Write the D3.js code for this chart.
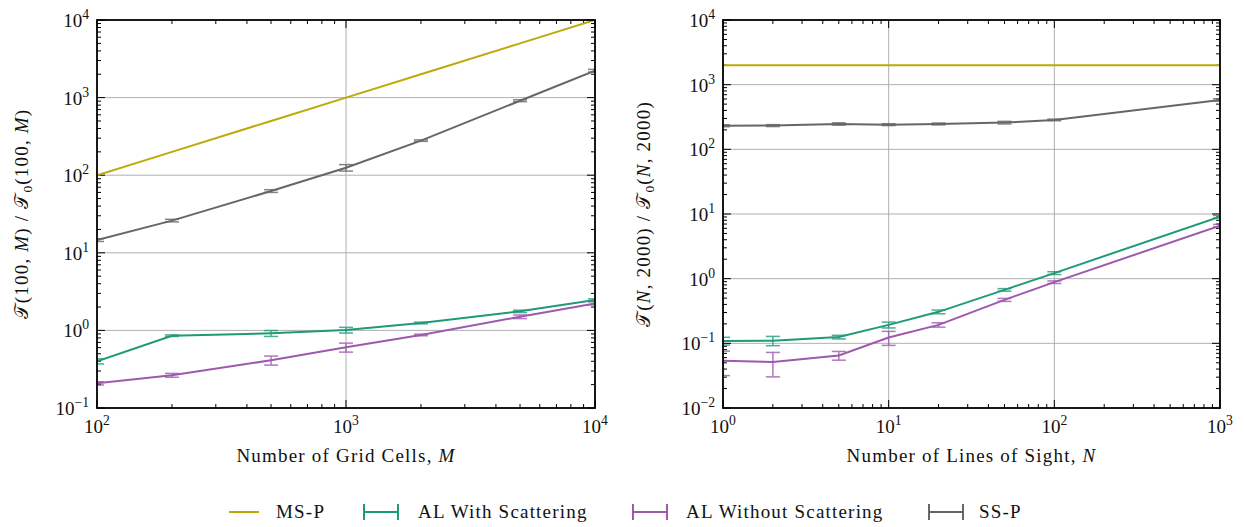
<!DOCTYPE html>
<html>
<head>
<meta charset="utf-8">
<script src="https://cdn.jsdelivr.net/npm/d3@7"></script>
<style>
  html, body { margin: 0; padding: 0; background: #fff; }
  svg { display: block; }
  text { font-family: "Liberation Serif", "Times New Roman", serif; fill: #111; }
</style>
</head>
<body>
<svg id="chart" width="1244" height="527"></svg>
<script>
// ---- Data: scaling with grid cells M (left) ----
const gridCells = [100, 200, 500, 1000, 2000, 5000, 10000];
const msP_M = [100, 200, 500, 1000, 2000, 5000, 10000];
const ssP_M = [14.6, 26, 62.5, 125, 279, 912, 2220];
const ssP_M_err = [0.6, 1, 2.5, 12, 6, 25, 90];
const alWith_M = [0.40, 0.855, 0.916, 1.01, 1.245, 1.76, 2.47];
const alWith_M_err = [0.03, 0.02, 0.08, 0.085, 0.03, 0.06, 0.08];
const alWithout_M = [0.208, 0.264, 0.412, 0.605, 0.873, 1.50, 2.23];
const alWithout_M_err = [0.01, 0.015, 0.055, 0.08, 0.02, 0.08, 0.1];

// ---- Data: scaling with lines of sight N (right) ----
const linesOfSight = [1, 2, 5, 10, 20, 50, 100, 1000];
const msP_N = [2000, 2000, 2000, 2000, 2000, 2000, 2000, 2000];
const ssP_N = [232, 233, 247, 241, 247, 259, 285, 581];
const ssP_N_err = [8, 8, 10, 8, 8, 12, 8, 25];
const alWith_N = [0.109, 0.110, 0.125, 0.193, 0.307, 0.671, 1.22, 9.1];
const alWith_N_err = [0.015, 0.018, 0.008, 0.02, 0.02, 0.03, 0.06, 0.4];
const alWithout_N = [0.0537, 0.0513, 0.0649, 0.123, 0.193, 0.47, 0.883, 6.6];
const alWithout_N_err = [0.022, 0.021, 0.01, 0.03, 0.015, 0.025, 0.04, 0.3];

// ---- Axis tick labels (decade exponents) ----
const xTicksLeft = [2, 3, 4];
const yTicksLeft = [-1, 0, 1, 2, 3, 4];
const xTicksRight = [0, 1, 2, 3];
const yTicksRight = [-2, -1, 0, 1, 2, 3, 4];

const seriesNames = ["MS-P", "AL With Scattering", "AL Without Scattering", "SS-P"];
const colors = { msp: "#bcab07", alw: "#1f9a78", alwo: "#9e58ae", ssp: "#666666" };

const svg = d3.select("#chart");
const fs = 19;
const ls = 1.2;

function sup(txt, exp) {
  txt.text(null);
  txt.append("tspan").text("10");
  txt.append("tspan").attr("dy", -8).attr("font-size", fs * 0.72)
    .text(exp < 0 ? "\u2212" + Math.abs(exp) : String(exp));
}

function panel(opts) {
  const { x0, x1, y0, y1, xExp, yExp, xs, series, xTitle, yTitleParts, id } = opts;
  const x = d3.scaleLog().domain([Math.pow(10, xExp[0]), Math.pow(10, xExp[xExp.length - 1])]).range([x0, x1]);
  const y = d3.scaleLog().domain([Math.pow(10, yExp[0]), Math.pow(10, yExp[yExp.length - 1])]).range([y1, y0]);
  const g = svg.append("g");

  g.append("clipPath").attr("id", id).append("rect")
    .attr("x", x0).attr("y", y0).attr("width", x1 - x0).attr("height", y1 - y0);

  // grid at decades
  g.append("g").selectAll("line").data(xExp.slice(1, -1)).join("line")
    .attr("x1", d => x(Math.pow(10, d))).attr("x2", d => x(Math.pow(10, d)))
    .attr("y1", y0).attr("y2", y1).attr("stroke", "#b0b0b0").attr("stroke-width", 1);
  g.append("g").selectAll("line").data(yExp.slice(1, -1)).join("line")
    .attr("y1", d => y(Math.pow(10, d))).attr("y2", d => y(Math.pow(10, d)))
    .attr("x1", x0).attr("x2", x1).attr("stroke", "#b0b0b0").attr("stroke-width", 1);

  // ticks on all four sides, pointing inward
  const ticks = g.append("g").attr("stroke", "#000").attr("stroke-width", 1);
  function minorMajor(exps) {
    const out = [];
    for (let i = 0; i < exps.length; i++) {
      out.push({ v: Math.pow(10, exps[i]), major: true });
      if (i < exps.length - 1) for (let k = 2; k <= 9; k++) out.push({ v: k * Math.pow(10, exps[i]), major: false });
    }
    return out;
  }
  minorMajor(xExp).forEach(t => {
    const px = x(t.v), L = t.major ? 8 : 4;
    ticks.append("line").attr("x1", px).attr("x2", px).attr("y1", y1).attr("y2", y1 - L);
    ticks.append("line").attr("x1", px).attr("x2", px).attr("y1", y0).attr("y2", y0 + L);
  });
  minorMajor(yExp).forEach(t => {
    const py = y(t.v), L = t.major ? 8 : 4;
    ticks.append("line").attr("y1", py).attr("y2", py).attr("x1", x0).attr("x2", x0 + L);
    ticks.append("line").attr("y1", py).attr("y2", py).attr("x1", x1).attr("x2", x1 - L);
  });

  // tick labels
  xExp.forEach(e => {
    const t = g.append("text").attr("x", x(Math.pow(10, e))).attr("y", y1 + 25)
      .attr("text-anchor", "middle").attr("font-size", fs);
    sup(t, e);
  });
  yExp.forEach(e => {
    const t = g.append("text").attr("x", x0 - 8).attr("y", y(Math.pow(10, e)) + 7)
      .attr("text-anchor", "end").attr("font-size", fs);
    sup(t, e);
  });

  // series
  const plot = g.append("g").attr("clip-path", `url(#${id})`);
  const line = d3.line().x(d => x(d[0])).y(d => y(d[1]));
  series.forEach(s => {
    const pts = xs.map((xv, i) => [xv, s.values[i]]);
    if (s.err) {
      const eb = plot.append("g").attr("stroke", s.color).attr("stroke-width", 1.5).attr("opacity", 0.8);
      xs.forEach((xv, i) => {
        const px = x(xv), lo = y(s.values[i] - s.err[i]), hi = y(s.values[i] + s.err[i]);
        eb.append("line").attr("x1", px).attr("x2", px).attr("y1", lo).attr("y2", hi);
        eb.append("line").attr("x1", px - 7).attr("x2", px + 7).attr("y1", lo).attr("y2", lo);
        eb.append("line").attr("x1", px - 7).attr("x2", px + 7).attr("y1", hi).attr("y2", hi);
      });
    }
    plot.append("path").datum(pts).attr("d", line).attr("fill", "none")
      .attr("stroke", s.color).attr("stroke-width", 2);
  });

  // frame
  g.append("rect").attr("x", x0).attr("y", y0).attr("width", x1 - x0).attr("height", y1 - y0)
    .attr("fill", "none").attr("stroke", "#000").attr("stroke-width", 1.8);

  // axis titles
  const xt = g.append("text").attr("x", (x0 + x1) / 2).attr("y", y1 + 54)
    .attr("text-anchor", "middle").attr("font-size", fs).attr("letter-spacing", ls);
  xt.append("tspan").text(xTitle[0]);
  xt.append("tspan").attr("font-style", "italic").text(xTitle[1]);

  const yt = g.append("text").attr("transform", `translate(${opts.yTitleX},${(y0 + y1) / 2}) rotate(-90)`)
    .attr("text-anchor", "middle").attr("font-size", fs).attr("letter-spacing", ls);
  yTitleParts.forEach(p => {
    const ts = yt.append("tspan").text(p.t);
    if (p.i) ts.attr("font-style", "italic");
    if (p.sub) ts.attr("font-size", fs * 0.7).attr("dy", 4);
    if (p.up) ts.attr("dy", -4);
  });
}

panel({
  id: "clipL", x0: 97, x1: 595, y0: 20, y1: 408,
  xExp: xTicksLeft, yExp: yTicksLeft, xs: gridCells, yTitleX: 28,
  series: [
    { color: colors.msp, values: msP_M },
    { color: colors.alw, values: alWith_M, err: alWith_M_err },
    { color: colors.alwo, values: alWithout_M, err: alWithout_M_err },
    { color: colors.ssp, values: ssP_M, err: ssP_M_err }
  ],
  xTitle: ["Number of Grid Cells, ", "M"],
  yTitleParts: [
    { t: "\uD835\uDCAF" }, { t: "(100, " }, { t: "M", i: true }, { t: ") / " },
    { t: "\uD835\uDCAF" }, { t: "0", sub: true }, { t: "(100, ", up: true }, { t: "M", i: true }, { t: ")" }
  ]
});

panel({
  id: "clipR", x0: 723, x1: 1220, y0: 20, y1: 408,
  xExp: xTicksRight, yExp: yTicksRight, xs: linesOfSight, yTitleX: 650,
  series: [
    { color: colors.msp, values: msP_N },
    { color: colors.alw, values: alWith_N, err: alWith_N_err },
    { color: colors.alwo, values: alWithout_N, err: alWithout_N_err },
    { color: colors.ssp, values: ssP_N, err: ssP_N_err }
  ],
  xTitle: ["Number of Lines of Sight, ", "N"],
  yTitleParts: [
    { t: "\uD835\uDCAF" }, { t: "(" }, { t: "N", i: true }, { t: ", 2000) / " },
    { t: "\uD835\uDCAF" }, { t: "0", sub: true }, { t: "(", up: true }, { t: "N", i: true }, { t: ", 2000)" }
  ]
});

// legend
const legend = svg.append("g");
const legendItems = [
  { name: seriesNames[0], color: colors.msp, x: 229, w: 30, tx: 276, eb: false },
  { name: seriesNames[1], color: colors.alw, x: 364, w: 34, tx: 418, eb: true },
  { name: seriesNames[2], color: colors.alwo, x: 633, w: 34, tx: 686, eb: true },
  { name: seriesNames[3], color: colors.ssp, x: 929, w: 34, tx: 979, eb: true }
];
const ly = 512;
legendItems.forEach(it => {
  legend.append("line").attr("x1", it.x).attr("x2", it.x + it.w).attr("y1", ly).attr("y2", ly)
    .attr("stroke", it.color).attr("stroke-width", 2);
  if (it.eb) {
    [it.x, it.x + it.w].forEach(px => legend.append("line").attr("x1", px).attr("x2", px)
      .attr("y1", ly - 8).attr("y2", ly + 8).attr("stroke", it.color).attr("stroke-width", 2));
  }
  legend.append("text").attr("x", it.tx).attr("y", ly + 6).attr("font-size", fs)
    .attr("letter-spacing", ls).text(it.name);
});
</script>
</body>
</html>
